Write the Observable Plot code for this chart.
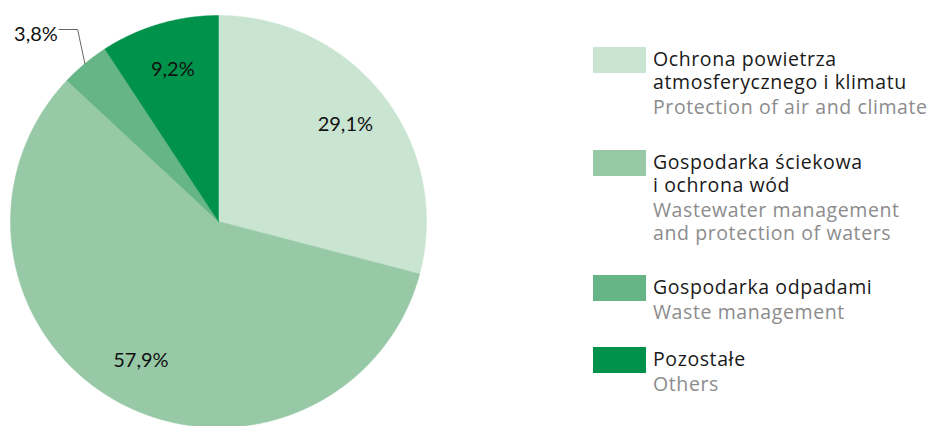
<!DOCTYPE html>
<html>
<head>
<meta charset="utf-8">
<script src="https://cdn.jsdelivr.net/npm/d3@7"></script>
<script src="https://cdn.jsdelivr.net/npm/@observablehq/plot@0.6"></script>
<style>
  html, body { margin: 0; padding: 0; background: #fff; }
  #wrap { position: relative; width: 928px; height: 426px; overflow: hidden; }
  #legend { position: absolute; left: 0; top: 0; width: 928px; height: 426px; pointer-events: none;
            font-family: "Open Sans", sans-serif; font-size: 19.5px; letter-spacing: 0.6px; line-height: 23px; }
  .item { position: absolute; left: 593px; }
  .sw { position: absolute; left: 0; top: 0; width: 53px; height: 26px; }
  .txt { position: absolute; left: 60px; top: 0; white-space: nowrap; }
  .pl { color: #1a1a1a; }
  .en { color: #8c8c8c; margin-top: 2px; }
</style>
</head>
<body>
<div id="wrap"></div>
<script>
// ---- data ----
const categoriesPL = [
  ["Ochrona powietrza", "atmosferycznego i klimatu"],
  ["Gospodarka ściekowa", "i ochrona wód"],
  ["Gospodarka odpadami"],
  ["Pozostałe"]
];
const categoriesEN = [
  ["Protection of air and climate"],
  ["Wastewater management", "and protection of waters"],
  ["Waste management"],
  ["Others"]
];
const shares = [29.1, 57.9, 3.8, 9.2];
const labels = ["29,1%", "57,9%", "3,8%", "9,2%"];
const colors = ["#c9e4d1", "#97c9a6", "#66b586", "#00924a"];

// ---- layout ----
const legendTops = [47, 150, 275, 347];

const arcs = d3.pie().sort(null).startAngle(0).endAngle(2 * Math.PI)(shares);
const pt = (a, r) => ({x: r * Math.sin(a), y: -r * Math.cos(a)});

const poly = [];
arcs.forEach((d, i) => {
  const n = Math.max(2, Math.ceil((d.endAngle - d.startAngle) / 0.005));
  poly.push({k: i, c: colors[i], ...pt(0, 0)});
  for (let j = 0; j <= n; j++) {
    const a = d.startAngle + (d.endAngle - d.startAngle) * j / n;
    poly.push({k: i, c: colors[i], ...pt(a, 1)});
  }
  poly.push({k: i, c: colors[i], ...pt(0, 0)});
});

const inside = [], leader = [], outside = [];
arcs.forEach((d, i) => {
  const mid = (d.startAngle + d.endAngle) / 2;
  if (shares[i] >= 5) {
    inside.push({label: labels[i], ...pt(mid, 0.77)});
  } else {
    const e = pt(mid, 1);
    const elbow = {x: e.x - 0.035, y: -0.932};
    const end = {x: elbow.x - 0.09, y: -0.932};
    leader.push({k: i, ...e}, {k: i, ...elbow}, {k: i, ...end});
    outside.push({label: labels[i], x: end.x - 0.005, y: end.y});
  }
});

const chart = Plot.plot({
  width: 928,
  height: 426,
  margin: 0,
  x: {domain: [-1, 1], range: [10, 426], axis: null},
  y: {domain: [-1, 1], range: [15, 427], axis: null},
  style: {background: "transparent"},
  marks: [
    Plot.line(poly, {x: "x", y: "y", z: "k", fill: d => d.c, stroke: d => d.c, strokeWidth: 0.5, curve: "linear"}),
    Plot.line(leader, {x: "x", y: "y", z: "k", stroke: "#666", strokeWidth: 1}),
    Plot.text(inside, {x: "x", y: "y", text: "label", fontSize: 20, fontFamily: "Lato", fill: "#111"}),
    Plot.text(outside, {x: "x", y: "y", text: "label", dy: 5, textAnchor: "end", fontSize: 20, fontFamily: "Lato", fill: "#111"})
  ]
});

const wrap = document.getElementById("wrap");
wrap.appendChild(chart);

const legend = document.createElement("div");
legend.id = "legend";
categoriesPL.forEach((pl, i) => {
  const item = document.createElement("div");
  item.className = "item";
  item.style.top = legendTops[i] + "px";
  const sw = document.createElement("div");
  sw.className = "sw";
  sw.style.background = colors[i];
  item.appendChild(sw);
  const t = document.createElement("div");
  t.className = "txt";
  const p = document.createElement("div");
  p.className = "pl";
  p.innerHTML = pl.join("<br>");
  const e = document.createElement("div");
  e.className = "en";
  e.innerHTML = categoriesEN[i].join("<br>");
  t.appendChild(p);
  t.appendChild(e);
  item.appendChild(t);
  legend.appendChild(item);
});
wrap.appendChild(legend);
</script>
</body>
</html>
